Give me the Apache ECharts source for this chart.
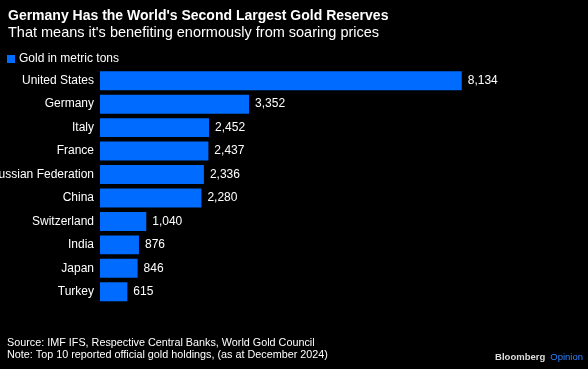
<!DOCTYPE html>
<html><head><meta charset="utf-8">
<script src="https://cdn.jsdelivr.net/npm/echarts@6/dist/echarts.min.js"></script>
<style>html,body{margin:0;padding:0;background:#000;}#c{width:588px;height:369px;}</style>
</head><body><div id="c"></div>
<script>
const categories = ["United States","Germany","Italy","France","Russian Federation","China","Switzerland","India","Japan","Turkey"];
const goldTons = [8134,3352,2452,2437,2336,2280,1040,876,846,615];
const seriesName = "Gold in metric tons";

const chart = echarts.init(document.getElementById('c'));
const font = "'Liberation Sans', Arial, sans-serif";
chart.setOption({
  backgroundColor: '#000',
  animation: false,
  title: [
    {text: "Germany Has the World's Second Largest Gold Reserves", left: 3, top: 4, padding: 5,
     textStyle: {color: '#fff', fontSize: 14, fontWeight: 'bold', fontFamily: font}},
    {text: "That means it's benefiting enormously from soaring prices", left: 3, top: 20, padding: 5,
     textStyle: {color: '#fff', fontSize: 14.5, fontWeight: 'normal', fontFamily: font}},
    {text: "Source: IMF IFS, Respective Central Banks, World Gold Council", left: 2, top: 333,
     textStyle: {color: '#fff', fontSize: 10.8, fontWeight: 'normal', fontFamily: font}},
    {text: "Note: Top 10 reported official gold holdings, (as at December 2024)", left: 2, top: 345,
     textStyle: {color: '#fff', fontSize: 10.8, fontWeight: 'normal', fontFamily: font}},
    {text: "{a|Bloomberg} {b|Opinion}", right: 0, top: 343,
     textStyle: {rich: {a: {color: '#ddd', fontSize: 9.5, fontWeight: 'bold', fontFamily: font},
                        b: {color: '#2f80ff', fontSize: 9.5, fontWeight: 'normal', fontFamily: font}}}}
  ],
  legend: {
    left: 2, top: 48, itemWidth: 8, itemHeight: 8, itemGap: 5,
    icon: 'rect',
    textStyle: {color: '#fff', fontSize: 12, fontFamily: font, padding: [0,0,0,-1]},
    data: [seriesName]
  },
  grid: {left: 100, top: 69, bottom: 65.5, width: 444.7, containLabel: false, outerBoundsMode: 'none'},
  xAxis: {type: 'value', min: 0, max: 10000, show: false},
  yAxis: {type: 'category', data: categories, inverse: true,
    axisLine: {show: false}, axisTick: {show: false},
    axisLabel: {color: '#fff', fontSize: 12, fontFamily: font, margin: 6}},
  series: [{
    name: seriesName, type: 'bar', data: goldTons,
    barCategoryGap: '19%',
    itemStyle: {color: '#006cff'},
    label: {show: true, position: 'right', distance: 6, color: '#fff', fontSize: 12, fontFamily: font,
      formatter: p => p.value.toLocaleString('en-US')}
  }]
});
</script></body></html>
